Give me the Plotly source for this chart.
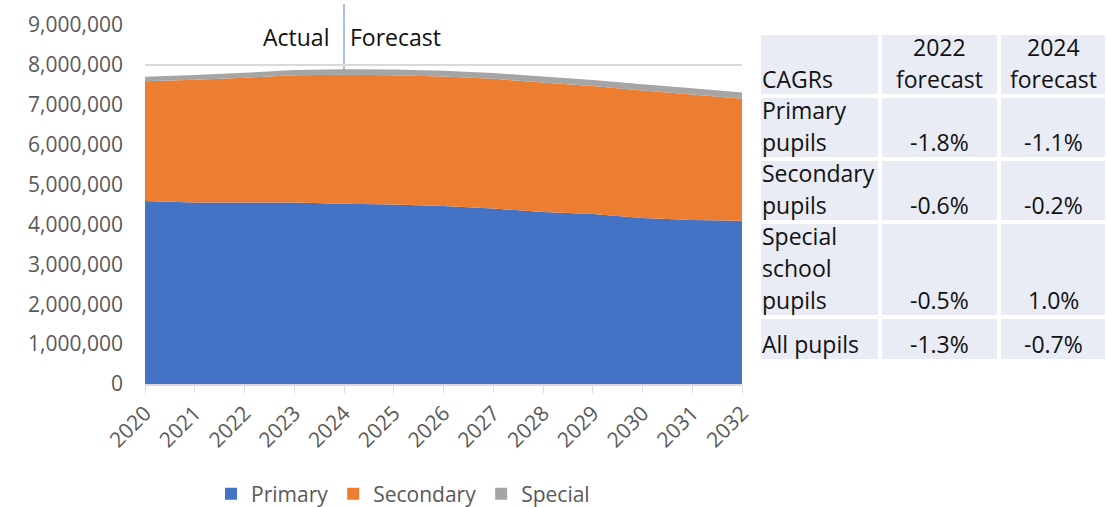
import plotly.graph_objects as go

years = [2020, 2021, 2022, 2023, 2024, 2025, 2026, 2027, 2028, 2029, 2030, 2031, 2032]
primary = [4590000, 4550000, 4550000, 4550000, 4520000, 4500000, 4460000, 4400000, 4310000, 4260000, 4160000, 4110000, 4090000]
secondary = [3000000, 3080000, 3130000, 3190000, 3230000, 3240000, 3250000, 3250000, 3250000, 3210000, 3200000, 3150000, 3060000]
special = [110000, 115000, 120000, 130000, 140000, 142000, 144000, 146000, 148000, 150000, 152000, 154000, 156000]

series_names = ["Primary", "Secondary", "Special"]
series_colors = ["#4472C4", "#ED7D31", "#A5A5A5"]
split_year = 2024

table_header = ["CAGRs", "2022<br>forecast", "2024<br>forecast"]
table_rows = ["Primary<br>pupils", "Secondary<br>pupils", "Special<br>school<br>pupils", "All pupils"]
cagr_2022 = ["-1.8%", "-0.6%", "-0.5%", "-1.3%"]
cagr_2024 = ["-1.1%", "-0.2%", "1.0%", "-0.7%"]

FONT = "Open Sans"
TICK_COLOR = "#595959"
TEXT_COLOR = "#111111"
TABLE_BG = "#E9EBF5"
W, H = 1106, 507

def px_x(p):
    return p / W

def px_y(p):
    return (H - p) / H

fig = go.Figure()
for name, vals, col in zip(series_names, [primary, secondary, special], series_colors):
    fig.add_trace(go.Scatter(x=years, y=vals, name=name, stackgroup="one", mode="none",
                             fillcolor=col, showlegend=False, hoverinfo="x+y+name"))
for name, col in zip(series_names, series_colors):
    fig.add_trace(go.Scatter(x=[None], y=[None], mode="markers", name=name,
                             marker=dict(symbol="square", size=12, color=col)))

# ---- CAGR table (drawn as layout shapes + text) ----
table_data = [table_header] + [[r, a, b] for r, a, b in zip(table_rows, cagr_2022, cagr_2024)]
col_edges = [(761, 878), (882, 997), (1001, 1105)]
col_align = ["left", "center", "center"]
LINE_H = 32
GAP = 4
TABLE_TOP = 35
TABLE_FONT = 23

y_top = TABLE_TOP
for row in table_data:
    n_lines = max(cell.count("<br>") + 1 for cell in row)
    row_h = max(44, LINE_H * n_lines - 1)
    cell_bottom = y_top + row_h - GAP
    for (x0, x1), align, cell in zip(col_edges, col_align, row):
        fig.add_shape(type="rect", xref="paper", yref="paper",
                      x0=px_x(x0), x1=px_x(x1), y0=px_y(cell_bottom), y1=px_y(y_top),
                      fillcolor=TABLE_BG, line=dict(width=0), layer="below")
        lines = cell.split("<br>")
        for k, line in enumerate(reversed(lines)):
            cy = cell_bottom - 15 - k * LINE_H
            if align == "left":
                ax, xanc = px_x(x0 - 1), "left"
            else:
                ax, xanc = px_x((x0 + x1) / 2), "center"
            fig.add_annotation(x=ax, y=px_y(cy), xref="paper", yref="paper", text=line,
                               showarrow=False, xanchor=xanc, yanchor="middle",
                               font=dict(family=FONT, size=TABLE_FONT, color=TEXT_COLOR))
    y_top += row_h

# ---- Actual / Forecast divider ----
fig.add_shape(type="line", xref="x", yref="paper", x0=split_year, x1=split_year,
              y0=px_y(384), y1=px_y(4), line=dict(color="#8EA9DB", width=1.5), layer="below")
fig.add_annotation(x=split_year, xref="x", y=px_y(37), yref="paper", text="Actual",
                   showarrow=False, xanchor="right", yanchor="middle", xshift=-13,
                   font=dict(family=FONT, size=23, color=TEXT_COLOR))
fig.add_annotation(x=split_year, xref="x", y=px_y(37), yref="paper", text="Forecast",
                   showarrow=False, xanchor="left", yanchor="middle", xshift=4,
                   font=dict(family=FONT, size=23, color=TEXT_COLOR))

fig.update_layout(
    width=W, height=H,
    margin=dict(l=0, r=0, t=0, b=0, autoexpand=False),
    paper_bgcolor="white", plot_bgcolor="white",
    font=dict(family=FONT, color=TICK_COLOR),
    xaxis=dict(domain=[px_x(145), px_x(742)], range=[2020, 2032], tickmode="array",
               tickvals=years, ticktext=[str(y) for y in years], tickangle=-45,
               tickfont=dict(size=21, color=TICK_COLOR), showgrid=False,
               showline=True, linecolor="#D9D9D9", linewidth=1.5, automargin=False,
               ticks="outside", ticklen=7, tickcolor="#D9D9D9", zeroline=False),
    yaxis=dict(domain=[px_y(384), px_y(25)], range=[0, 9000000], tickmode="linear",
               tick0=0, dtick=1000000, tickformat=",d", automargin=False,
               tickfont=dict(size=21, color=TICK_COLOR), showgrid=True,
               gridcolor="#D9D9D9", gridwidth=1.5, zeroline=False, ticks="",
               ticklabelstandoff=21),
    legend=dict(orientation="h", x=px_x(403), xanchor="center", y=px_y(494), yanchor="middle",
                font=dict(size=21, color=TICK_COLOR), itemwidth=30, tracegroupgap=0,
                traceorder="normal"),
    showlegend=True,
)

fig.write_html("out.html")
